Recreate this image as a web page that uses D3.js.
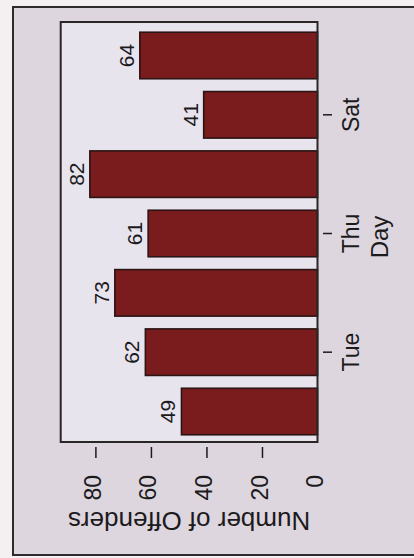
<!DOCTYPE html>
<html><head><meta charset="utf-8">
<script src="https://cdn.jsdelivr.net/npm/d3@7"></script>
<style>html,body{margin:0;padding:0;background:#f4f0f2;} svg{display:block;}</style>
</head><body><svg id="c" width="414" height="558"></svg>
<script>
// ---- data ----
const days = ["Mon","Tue","Wed","Thu","Fri","Sat","Sun"];
const offenders = [49,62,73,61,82,41,64];
const valueTicks = [0,20,40,60,80];
const labeledDays = ["Tue","Thu","Sat"];
const xTitle = "Day";
const yTitle = "Number of Offenders";

// ---- layout ----
const W = 414, H = 558;
const font = "'Liberation Sans', Arial, sans-serif";
const ink = "#1c1a1c";
const svg = d3.select("#c");

svg.append("rect").attr("x",0).attr("y",0).attr("width",W).attr("height",H).attr("fill","#f4f0f2");
svg.append("rect").attr("x",13).attr("y",7).attr("width",W).attr("height",548)
  .attr("fill","#ddd6de").attr("stroke","#2e2a2c").attr("stroke-width",2);

// chart drawn in upright coordinates (width H, height W), then rotated -90deg
const g = svg.append("g").attr("transform",`translate(0,${H}) rotate(-90)`);

const box = {x0:116, x1:536, y0:60.7, y1:317.5};

const x = d3.scaleBand().domain(days).range([114.5,534.5]).paddingInner(0.216).paddingOuter(0.147);
const y = d3.scaleLinear().domain([0,92.5]).range([box.y1, box.y0]);

g.append("rect").attr("x",box.x0).attr("y",box.y0)
  .attr("width",box.x1-box.x0).attr("height",box.y1-box.y0)
  .attr("fill","#e8e4ee");

const data = days.map((d,i)=>({day:d, v:offenders[i]}));

g.selectAll("rect.bar").data(data).enter().append("rect").attr("class","bar")
  .attr("x",d=>x(d.day)).attr("width",x.bandwidth())
  .attr("y",d=>y(d.v)).attr("height",d=>y(0)-y(d.v))
  .attr("fill","#7a1c1e").attr("stroke","#2a1414").attr("stroke-width",1.6);

g.append("rect").attr("x",box.x0).attr("y",box.y0)
  .attr("width",box.x1-box.x0).attr("height",box.y1-box.y0)
  .attr("fill","none").attr("stroke","#2a2626").attr("stroke-width",2);

g.selectAll("text.val").data(data).enter().append("text").attr("class","val")
  .attr("x",d=>x(d.day)+x.bandwidth()/2).attr("y",d=>y(d.v)-6)
  .attr("text-anchor","middle").attr("font-family",font).attr("font-size",21)
  .attr("fill",ink).text(d=>d.v);

// value axis
const ya = g.append("g").attr("transform","translate(111,0)")
  .call(d3.axisLeft(y).tickValues(valueTicks).tickSize(11).tickPadding(17));
ya.select(".domain").remove();
ya.selectAll(".tick line").attr("stroke",ink).attr("stroke-width",1.5)
  .attr("opacity",d=>d===0?0:1);
ya.selectAll(".tick text").attr("font-family",font).attr("font-size",23)
  .attr("fill",ink).attr("dy","0.22em");

// category axis
const xa = g.append("g").attr("transform","translate(0,323)")
  .call(d3.axisBottom(x).tickValues(labeledDays).tickSize(9).tickPadding(11));
xa.select(".domain").remove();
xa.selectAll(".tick line").attr("stroke",ink).attr("stroke-width",1.5);
xa.selectAll(".tick text").attr("font-family",font).attr("font-size",23).attr("fill",ink);

g.append("text").attr("x",321).attr("y",388).attr("text-anchor","middle")
  .attr("font-family",font).attr("font-size",24).attr("fill",ink).text(xTitle);

g.append("text").attr("transform",`translate(46,${(box.y0+box.y1)/2}) rotate(-90)`)
  .attr("text-anchor","middle").attr("font-family",font).attr("font-size",26)
  .attr("fill",ink).text(yTitle);
</script></body></html>
